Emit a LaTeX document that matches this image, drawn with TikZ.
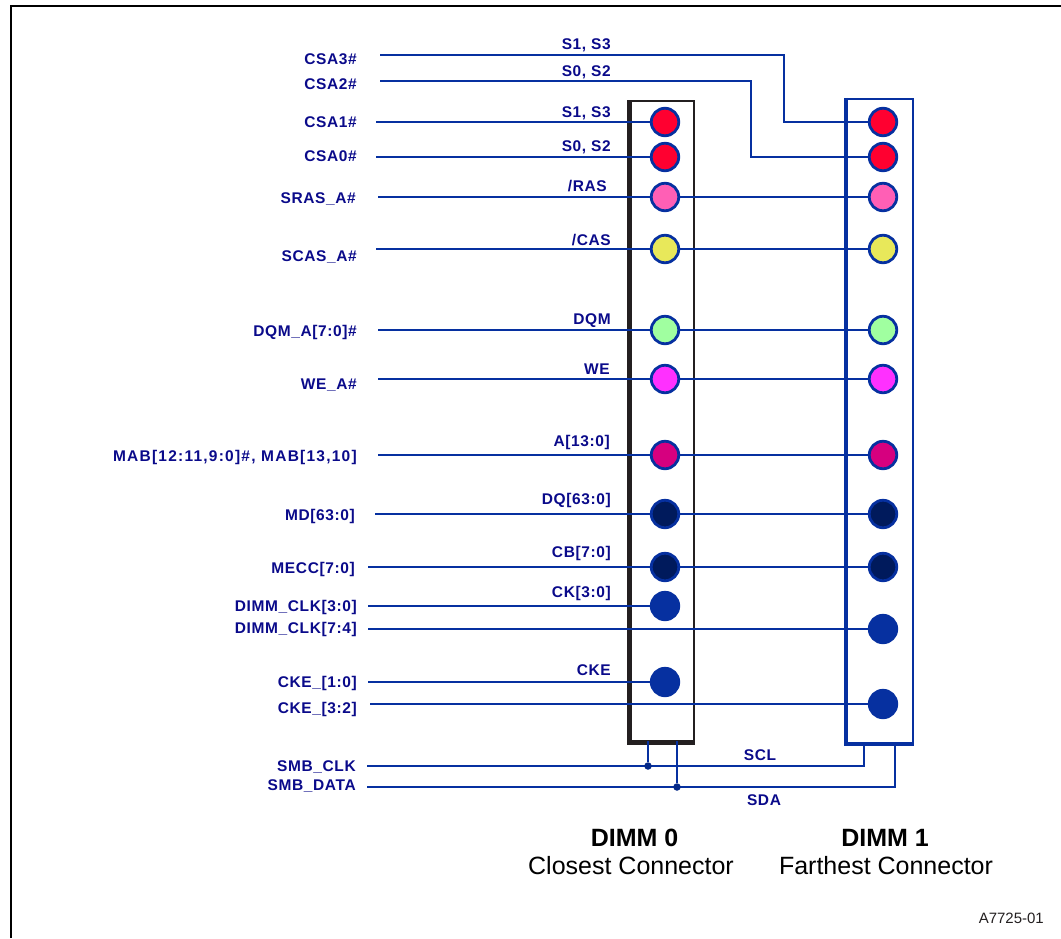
\documentclass[tikz,border=0pt]{standalone}
\usepackage{fontspec}
\setmainfont{Liberation Sans}
\newfontfamily\sigfont[LetterSpace=4]{Liberation Sans}
\usepackage{xcolor}
\usetikzlibrary{positioning,calc}
\definecolor{wireblue}{HTML}{0630A0}
\definecolor{textnavy}{HTML}{0A0A8A}
\definecolor{boxblack}{HTML}{231F20}
\definecolor{pinred}{HTML}{FF0030}
\definecolor{pinpink}{HTML}{FF5FB5}
\definecolor{pinyellow}{HTML}{E8E85A}
\definecolor{pingreen}{HTML}{A0FFA0}
\definecolor{pinmagenta}{HTML}{FF30FF}
\definecolor{pinrose}{HTML}{D6007F}
\definecolor{pinnavy}{HTML}{001A5C}
\tikzset{
  frameline/.style={draw=black, line width=2pt},
  dimmbox/.style={rectangle, inner sep=0pt, minimum width=#1, fill=white},
  pin/.style={circle, draw=wireblue, line width=2.8pt, minimum size=27.5pt, inner sep=0pt, fill=#1},
  wire/.style={draw=wireblue, line width=2.5pt},
  junction/.style={circle, fill=wireblue!85!black, inner sep=0pt, minimum size=7.5pt},
  siglbl/.style={font=\fontsize{15.5}{18}\sigfont\bfseries, text=textnavy, inner sep=0pt,
    text height=11pt, text depth=0pt},
  dimmlbl/.style={font=\fontsize{25}{28}\selectfont, inner sep=0pt, text height=18pt, text depth=0pt},
  draftlbl/.style={font=\fontsize{15}{17}\selectfont, inner sep=0pt, text=boxblack},
}
\begin{document}
\begin{tikzpicture}[x=1pt,y=-1pt]
\useasboundingbox (0,0) rectangle (1061,938);
\draw[frameline] (11,938) -- (11,6) -- (1061,6);

% the two connectors
\node[dimmbox=64pt, minimum height=640pt, draw=boxblack, line width=2pt] (dimm0) at (662,421) {};
\node[dimmbox=66pt, minimum height=644pt, draw=wireblue, line width=2.4pt] (dimm1) at (880,421) {};
\draw[boxblack, line width=5pt] (dimm0.north west) -- (dimm0.south west) -- (dimm0.south east);
\draw[wireblue, line width=4.5pt] (dimm1.north west) -- (dimm1.south west) -- (dimm1.south east);

% pins
\foreach \pname/\py/\pcol in {sras/197/pinpink,scas/249/pinyellow,dqm/330/pingreen,wea/379/pinmagenta,
    mab/455/pinrose,md/514/pinnavy,mecc/567/pinnavy}{
  \node[pin=\pcol] (\pname0) at (665,\py) {};
  \node[pin=\pcol] (\pname1) at (883,\py) {};
}
\node[pin=pinred] (csa1) at (665,122) {};
\node[pin=pinred] (csa0) at (665,157) {};
\node[pin=pinred] (csa3) at (883,122) {};
\node[pin=pinred] (csa2) at (883,157) {};
\node[pin=wireblue] (clk0) at (665,606) {};
\node[pin=wireblue] (clk1) at (883,629) {};
\node[pin=wireblue] (cke0) at (665,682) {};
\node[pin=wireblue] (cke1) at (883,704) {};

% free ends of the wires
\foreach \wname/\wx/\wy in {csa3/380/55,csa2/380/81,csa1/376/122,csa0/376/157,sras/378/197,scas/376/249,
    dqm/378/330,wea/378/379,mab/378/455,md/375/514,mecc/368/567,clka/368/606,clkb/368/629,
    ckea/368/682,ckeb/370/704,scl/367/766,sda/367/787}
  \coordinate (w\wname) at (\wx,\wy);

\coordinate (k3) at (784,122);
\coordinate (k2) at (751,157);
\draw[wire] (wcsa3) -| (k3) -- (csa3);
\draw[wire] (wcsa2) -| (k2) -- (csa2);
\draw[wire] (wcsa1) -- (csa1);
\draw[wire] (wcsa0) -- (csa0);
\foreach \a in {sras,scas,dqm,wea,mab,md,mecc}{
  \draw[wire] (w\a) -- (\a0);
  \draw[wire] (\a0) -- (\a1);
}
\draw[wire] (wclka) -- (clk0);
\draw[wire] (wclkb) -- (clk1);
\draw[wire] (wckea) -- (cke0);
\draw[wire] (wckeb) -- (cke1);

% SMBus
\coordinate (p0) at (648,741);
\coordinate (q0) at (677,741);
\coordinate (p1) at (864,743);
\coordinate (q1) at (895,743);
\draw[wire] (wscl) -| (p1);
\draw[wire] (wsda) -| (q1);
\node[junction] (jscl) at (648,766) {};
\node[junction] (jsda) at (677,787) {};
\draw[wire] (p0) -- (jscl);
\draw[wire] (q0) -- (jsda);

% signal names
\foreach \ltext/\lx/\ly in {CSA3\#/357/59,CSA2\#/357/84,CSA1\#/357/122,CSA0\#/357/156,SRAS\_A\#/356/198,
    SCAS\_A\#/357/256,DQM\_A[7:0]\#/357/331,WE\_A\#/357/384,
    MD[63:0]/355/515,MECC[7:0]/355/568,DIMM\_CLK[3:0]/357/606,DIMM\_CLK[7:4]/357/628,
    CKE\_[1:0]/357/682,CKE\_[3:2]/357/708,SMB\_CLK/356/766,SMB\_DATA/356/785}
  \node[siglbl, anchor=east] at (\lx,\ly) {\ltext};
\node[siglbl, anchor=east] (mabname) at (357,456) {\addfontfeature{LetterSpace=8}MAB[12:11,9:0]\#, MAB[13,10]};

% pin names
\foreach \ltext/\lx/\ly in {{S1, S3}/611/44,{S0, S2}/611/71,{S1, S3}/611/112,{S0, S2}/611/146,{/RAS}/607/186,
    {/CAS}/611/240,DQM/611/319,WE/610/369,A[13:0]/610/441,DQ[63:0]/611/499,CB[7:0]/611/552,
    CK[3:0]/611/592,CKE/611/670}
  \node[siglbl, anchor=east] at (\lx,\ly) {\ltext};
\node[siglbl] (sclname) at (760,755) {SCL};
\node[siglbl] (sdaname) at (764,800) {SDA};

\node[dimmlbl] (cap0) at (634.5,837) {\textbf{DIMM 0}};
\node[dimmlbl] (sub0) at (631,865) {Closest Connector};
\node[dimmlbl] (cap1) at (885,837) {\textbf{DIMM 1}};
\node[dimmlbl] (sub1) at (886,865) {Farthest Connector};
\node[draftlbl, anchor=east] (figid) at (1044,918) {A7725-01};
\end{tikzpicture}
\end{document}
